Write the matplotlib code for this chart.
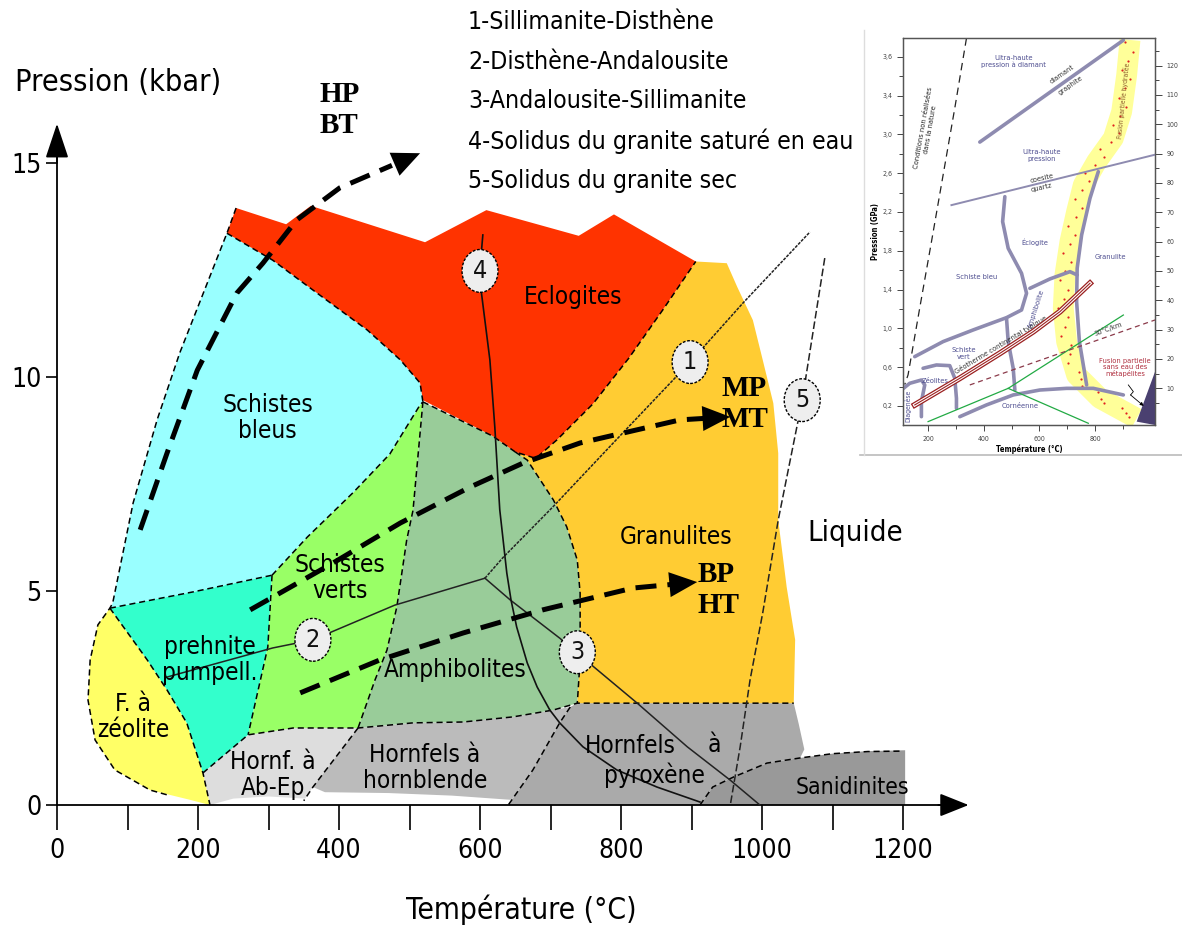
import matplotlib
matplotlib.use('Agg')
import matplotlib.pyplot as plt
import numpy as np
from matplotlib.patches import Polygon, Ellipse
from matplotlib.lines import Line2D

plt.rcParams['font.family'] = ['DejaVu Sans']
plt.rcParams['font.stretch'] = 'condensed'

# ---------------- data (T in °C, P in kbar) ----------------
xticks = list(range(0, 1300, 100))
xticklabels = [str(v) if v % 200 == 0 else '' for v in xticks]
yticks = [0, 5, 10, 15]
yticklabels = ['0', '5', '10', '15']

eclogite_T = [254, 325, 360, 522, 609, 740, 790, 906, 861, 811, 760, 709, 679, 650, 618, 519, 515, 487, 440, 369, 306, 241]
eclogite_P = [13.95, 13.57, 14.0, 13.15, 13.9, 13.3, 13.8, 12.7, 11.61, 10.44, 9.37, 8.53, 8.1, 8.25, 8.62, 9.46, 9.86, 10.4, 11.1, 11.96, 12.73, 13.36]

granulite_T = [650, 679, 709, 760, 811, 861, 906, 950, 965, 987, 1001, 1016, 1023, 1023, 1035, 1047, 1045, 738, 742, 742, 738, 723, 704, 667]
granulite_P = [8.25, 8.1, 8.53, 9.37, 10.44, 11.61, 12.7, 12.66, 12.1, 11.33, 10.4, 9.39, 8.22, 6.66, 5.09, 3.86, 2.38, 2.38, 3.39, 4.95, 5.72, 6.5, 7.13, 8.06]

amph_T = [519, 618, 650, 667, 704, 723, 738, 742, 742, 738, 704, 647, 576, 505, 427, 451, 468, 482, 496, 505]
amph_P = [9.42, 8.62, 8.25, 8.06, 7.13, 6.5, 5.72, 4.95, 3.39, 2.38, 2.22, 2.06, 1.94, 1.92, 1.8, 2.92, 3.62, 4.63, 6.19, 6.89]

blue_T = [241, 306, 369, 440, 487, 515, 519, 515, 472, 420, 355, 305, 193, 75, 79, 108, 142, 174]
blue_P = [13.36, 12.73, 11.96, 11.1, 10.4, 9.86, 9.42, 9.35, 8.2, 7.3, 6.26, 5.37, 4.98, 4.6, 4.72, 7.06, 9.0, 10.56]

verts_T = [515, 519, 505, 496, 482, 468, 451, 427, 335, 271, 299, 305, 355, 420, 472]
verts_P = [9.35, 9.42, 6.89, 6.19, 4.63, 3.62, 2.92, 1.8, 1.8, 1.64, 3.69, 5.37, 6.26, 7.3, 8.2]

prehnite_T = [75, 193, 305, 299, 271, 207, 184, 156, 128]
prehnite_P = [4.6, 4.98, 5.37, 3.69, 1.64, 0.75, 1.92, 2.69, 3.39]

zeolite_T = [75, 128, 156, 184, 207, 217, 189, 132, 82, 54, 44, 47, 58]
zeolite_P = [4.6, 3.39, 2.69, 1.92, 0.75, 0.0, 0.12, 0.35, 0.82, 1.52, 2.45, 3.39, 4.21]

abep_T = [207, 271, 335, 427, 363, 352, 300, 250, 217]
abep_P = [0.75, 1.64, 1.8, 1.8, 0.42, 0.15, 0.2, 0.15, 0.0]

hornbl_T = [427, 505, 576, 647, 704, 728, 713, 675, 645, 560, 470, 380, 363]
hornbl_P = [1.8, 1.92, 1.94, 2.06, 2.22, 2.29, 1.92, 0.82, 0.12, 0.22, 0.28, 0.3, 0.42]

pyrox_T = [728, 738, 1045, 1052, 1060, 1054, 1007, 959, 930, 912, 640, 675, 713]
pyrox_P = [2.29, 2.38, 2.38, 1.9, 1.3, 1.1, 0.98, 0.65, 0.42, 0.0, 0.0, 0.82, 1.92]

sanid_T = [912, 930, 959, 1007, 1054, 1100, 1150, 1203, 1203]
sanid_P = [0.0, 0.42, 0.65, 0.98, 1.1, 1.2, 1.26, 1.28, 0.0]

# facies boundaries (dashed)
bnd_outer_T = [254, 241, 174, 142, 108, 79, 75, 58, 47, 44, 54, 82, 132, 160]
bnd_outer_P = [13.95, 13.36, 10.56, 9.0, 7.06, 4.72, 4.6, 4.21, 3.39, 2.45, 1.52, 0.82, 0.35, 0.22]
bnd_redblue_T = [241, 306, 369, 440, 487, 515, 519]
bnd_redblue_P = [13.36, 12.73, 11.96, 11.1, 10.4, 9.86, 9.42]
bnd_redlow_T = [519, 618, 650, 679, 709, 760, 811, 861, 906]
bnd_redlow_P = [9.42, 8.62, 8.25, 8.1, 8.53, 9.37, 10.44, 11.61, 12.7]
bnd_blueprehn_T = [75, 193, 305]
bnd_blueprehn_P = [4.6, 4.98, 5.37]
bnd_blueverts_T = [305, 355, 420, 472, 515, 519]
bnd_blueverts_P = [5.37, 6.26, 7.3, 8.2, 9.35, 9.42]
bnd_vertsamph_T = [519, 505, 496, 482, 468, 451, 427]
bnd_vertsamph_P = [9.42, 6.89, 6.19, 4.63, 3.62, 2.92, 1.8]
bnd_prehnverts_T = [305, 299, 271]
bnd_prehnverts_P = [5.37, 3.69, 1.64]
bnd_prehnzeol_T = [75, 128, 156, 184, 207, 217]
bnd_prehnzeol_P = [4.6, 3.39, 2.69, 1.92, 0.75, 0.0]
bnd_low_T = [207, 271, 335, 427, 505, 576, 647, 704, 738, 1045]
bnd_low_P = [0.75, 1.64, 1.8, 1.8, 1.92, 1.94, 2.06, 2.22, 2.38, 2.38]
bnd_ampgran_T = [650, 667, 704, 723, 738, 742, 742, 738]
bnd_ampgran_P = [8.25, 8.06, 7.13, 6.5, 5.72, 4.95, 3.39, 2.38]
bnd_abep_T = [427, 363, 350]
bnd_abep_P = [1.8, 0.42, 0.1]
bnd_hbpx_T = [728, 713, 675, 640]
bnd_hbpx_P = [2.29, 1.92, 0.82, 0.0]
bnd_sanid_T = [912, 930, 959, 1007, 1054, 1100, 1150, 1200]
bnd_sanid_P = [0.0, 0.42, 0.65, 0.98, 1.1, 1.2, 1.25, 1.26]

# reaction curves 1-5
r1_T = [607, 633, 657, 703, 789, 898, 973, 1068]
r1_P = [5.3, 5.79, 6.19, 6.96, 8.46, 10.35, 11.73, 13.39]
r2_T = [607, 479, 363, 306, 156]
r2_P = [5.3, 4.67, 3.86, 3.67, 2.99]
r3_T = [607, 643, 713, 738, 823, 894, 955, 997]
r3_P = [5.3, 4.79, 3.9, 3.55, 2.38, 1.36, 0.58, 0.0]
r4_T = [604, 599, 614, 621, 628, 638, 644, 652, 667, 681, 699, 713, 746, 794, 851, 912]
r4_P = [13.32, 12.36, 10.4, 8.83, 6.9, 5.42, 4.79, 4.16, 3.32, 2.76, 2.22, 1.92, 1.36, 0.82, 0.42, 0.07]
r5_T = [1089, 1057, 1023, 1001, 983, 969, 955]
r5_P = [12.78, 9.46, 6.66, 4.49, 2.92, 1.36, 0.0]

circle_labels = ['1', '2', '3', '4', '5']
circle_T = [898, 363, 738, 600, 1057]
circle_P = [10.35, 3.86, 3.57, 12.48, 9.46]

# P-T paths
hp_T = [118, 156, 199, 255, 292, 340, 401, 515]
hp_P = [6.43, 8.22, 10.16, 11.96, 12.66, 13.67, 14.42, 15.23]
mp_T = [274, 391, 487, 586, 661, 742, 884, 955]
mp_P = [4.56, 5.65, 6.59, 7.43, 7.99, 8.46, 9.0, 9.07]
bp_T = [345, 458, 576, 689, 817, 908]
bp_P = [2.62, 3.39, 4.02, 4.56, 5.07, 5.21]

legend_lines = ['1-Sillimanite-Disthène', '2-Disthène-Andalousite', '3-Andalousite-Sillimanite',
                '4-Solidus du granite saturé en eau', '5-Solidus du granite sec']

# ---------------- inset data (T °C, P GPa) ----------------
in_cond_T = [338, 296, 254, 212, 170, 128, 116]
in_cond_P = [3.99, 3.27, 2.58, 1.89, 1.21, 0.52, 0.42]
in_diam_T = [386, 902]
in_diam_P = [2.92, 3.97]
in_coes_T = [284, 1016]
in_coes_P = [2.27, 2.79]
in_bs_T = [476, 468, 488, 536, 554, 536, 482, 362, 254, 152]
in_bs_P = [2.357, 2.10, 1.825, 1.567, 1.361, 1.189, 1.11, 0.983, 0.863, 0.708]
in_ecam_T = [566, 638, 710, 736]
in_ecam_P = [1.412, 1.509, 1.584, 1.55]
in_gran_T = [812, 782, 752, 736, 734, 744, 770]
in_gran_P = [2.615, 2.34, 1.962, 1.619, 1.275, 0.863, 0.416]
in_amsv_T = [482, 488, 506, 512]
in_amsv_P = [1.103, 0.863, 0.588, 0.364]
in_sv_T = [182, 230, 278, 296, 302, 302]
in_sv_P = [0.588, 0.622, 0.615, 0.485, 0.278, 0.175]
in_zeo_T = [104, 134, 176, 188, 176, 176]
in_zeo_P = [0.364, 0.433, 0.467, 0.416, 0.244, 0.089]
in_corn_T = [314, 410, 506, 602, 698, 794, 902]
in_corn_P = [0.089, 0.21, 0.313, 0.364, 0.381, 0.381, 0.313]
in_band_T = [926, 914, 896, 866, 806, 758, 734, 710, 692, 686, 698, 734, 818, 950]
in_band_P = [3.973, 3.612, 3.234, 2.959, 2.718, 2.478, 2.203, 1.893, 1.55, 1.206, 0.863, 0.519, 0.278, 0.072]
in_geo_T = [152, 314, 458, 578, 674, 782]
in_geo_P = [0.21, 0.485, 0.742, 0.966, 1.172, 1.464]
in_al_tp = (488, 0.381)
in_ky_and = (200, 0.038)
in_ky_sil = (902, 1.137)
in_and_sil = (776, 0.021)
in_30_T = [350, 1016]
in_30_P = [0.416, 1.086]
in_tri_T = [950, 1016, 1016]
in_tri_P = [0.038, 0.553, 0.003]
in_sq_T = [920, 938, 928, 975]
in_sq_P = [0.416, 0.347, 0.313, 0.2]
in_pticks = [0.2, 0.6, 1.0, 1.4, 1.8, 2.2, 2.6, 3.0, 3.4, 3.8]
in_plabels = ['0,2', '0,6', '1,0', '1,4', '1,8', '2,2', '2,6', '3,0', '3,4', '3,6']
in_tticks = [200, 400, 600, 800]
in_kmticks = list(range(10, 130, 10))

# ---------------- figure ----------------
W, H, DPI = 1182, 927, 100
fig = plt.figure(figsize=(W / DPI, H / DPI), dpi=DPI)
ax = fig.add_axes([0, 0, 1, 1])
ax.set_xlim(-80.85, 1595.7)
ax.set_ylim(-2.85, 18.81)
ax.patch.set_alpha(0)

def poly(T, P, color):
    ax.add_patch(Polygon(np.column_stack([T, P]), closed=True, facecolor=color,
                         edgecolor='none', zorder=1))

poly(abep_T, abep_P, '#DDDDDD')
poly(hornbl_T, hornbl_P, '#BBBBBB')
poly(pyrox_T, pyrox_P, '#AAAAAA')
poly(sanid_T, sanid_P, '#999999')
poly(zeolite_T, zeolite_P, '#FFFF66')
poly(prehnite_T, prehnite_P, '#33FFCC')
poly(verts_T, verts_P, '#99FF66')
poly(blue_T, blue_P, '#99FFFF')
poly(amph_T, amph_P, '#99CC99')
poly(granulite_T, granulite_P, '#FFCC33')
poly(eclogite_T, eclogite_P, '#FF3300')

for T, P in [(bnd_outer_T, bnd_outer_P), (bnd_redblue_T, bnd_redblue_P), (bnd_redlow_T, bnd_redlow_P),
             (bnd_blueprehn_T, bnd_blueprehn_P), (bnd_blueverts_T, bnd_blueverts_P),
             (bnd_vertsamph_T, bnd_vertsamph_P), (bnd_prehnverts_T, bnd_prehnverts_P),
             (bnd_prehnzeol_T, bnd_prehnzeol_P), (bnd_low_T, bnd_low_P), (bnd_ampgran_T, bnd_ampgran_P),
             (bnd_abep_T, bnd_abep_P), (bnd_hbpx_T, bnd_hbpx_P), (bnd_sanid_T, bnd_sanid_P)]:
    ax.plot(T, P, color='k', lw=1.1, dashes=(4, 2.5), zorder=2)

ax.plot(r1_T, r1_P, color='#222222', lw=1.1, dashes=(2, 0.8), zorder=3)
ax.plot(r2_T, r2_P, color='#222222', lw=1.1, zorder=3)
ax.plot(r3_T, r3_P, color='#222222', lw=1.1, zorder=3)
ax.plot(r4_T, r4_P, color='#111111', lw=1.2, zorder=3)
ax.plot(r5_T, r5_P, color='#222222', lw=1.1, dashes=(5, 2), zorder=3)

for lab, t, p in zip(circle_labels, circle_T, circle_P):
    ax.add_patch(Ellipse((t, p), 51, 1.0, facecolor='#EEEEEE', edgecolor='k', lw=1.0,
                         linestyle=(0, (2, 1.2)), zorder=4))
    ax.text(t, p, lab, ha='center', va='center', fontsize=18, zorder=5, color='#111111')

# region labels
lab_kw = dict(ha='center', va='center', fontsize=17.5, zorder=5, linespacing=1.1)
ax.text(732, 11.87, 'Eclogites', **lab_kw)
ax.text(299, 9.04, 'Schistes\nbleus', **lab_kw)
ax.text(401, 5.30, 'Schistes\nverts', **lab_kw)
ax.text(217, 3.39, 'prehnite\npumpell.', **lab_kw)
ax.text(108, 2.06, 'F. à\nzéolite', **lab_kw)
ax.text(565, 3.15, 'Amphibolites', **lab_kw)
ax.text(878, 6.26, 'Granulites', **lab_kw)
ax.text(1132, 6.36, 'Liquide', ha='center', va='center', fontsize=21, zorder=5)
ax.text(306, 0.70, 'Hornf. à\nAb-Ep', **lab_kw)
ax.text(522, 0.86, 'Hornfels à\nhornblende', **lab_kw)
ax.text(813, 1.38, 'Hornfels', **lab_kw)
ax.text(933, 1.40, 'à', **lab_kw)
ax.text(848, 0.70, 'pyroxène', **lab_kw)
ax.text(1128, 0.42, 'Sanidinites', ha='center', va='center', fontsize=16.5, zorder=5)

# P-T path arrows
for T, P in [(hp_T, hp_P), (mp_T, mp_P), (bp_T, bp_P)]:
    ax.plot(T[:-1] + [T[-1] - 0.35 * (T[-1] - T[-2])], P[:-1] + [P[-1] - 0.35 * (P[-1] - P[-2])],
            color='k', lw=3.6, dashes=(4.2, 2.2), solid_capstyle='butt', dash_capstyle='butt', zorder=6)
    ax.annotate('', xy=(T[-1], P[-1]), xytext=(T[-2], P[-2]),
                arrowprops=dict(arrowstyle='-|>,head_length=1.0,head_width=0.45', color='k', lw=0,
                                mutation_scale=20, shrinkA=0, shrinkB=0), zorder=6)

bold_kw = dict(ha='left', va='center', fontsize=21, fontweight='bold', family='Liberation Serif',
               fontstretch='normal', linespacing=1.2, zorder=7)
ax.text(373, 16.24, 'HP\nBT', **bold_kw)
ax.text(943, 9.37, 'MP\nMT', **bold_kw)
ax.text(908, 5.02, 'BP\nHT', **bold_kw)

for i, s in enumerate(legend_lines):
    ax.text(583, 18.29 - i * 0.925, s, ha='left', va='center', fontsize=17.8, zorder=5)

# axes
for s in ['top', 'right']:
    ax.spines[s].set_visible(False)
ax.spines['left'].set_position(('data', 0))
ax.spines['bottom'].set_position(('data', 0))
ax.spines['bottom'].set_bounds(0, 1270)
ax.spines['left'].set_bounds(0, 15.4)
ax.spines['left'].set_linewidth(1.3)
ax.spines['bottom'].set_linewidth(1.3)
ax.set_xticks(xticks, xticklabels)
ax.set_yticks(yticks, yticklabels)
ax.tick_params(axis='x', direction='out', length=18, width=1.2, pad=6, labelsize=19)
ax.tick_params(axis='y', direction='out', length=8, width=1.2, pad=3, labelsize=19)
ax.annotate('', xy=(1293, 0), xytext=(1250, 0),
            arrowprops=dict(arrowstyle='-|>,head_length=1.0,head_width=0.4', color='k', lw=1.3,
                            mutation_scale=18, shrinkA=0, shrinkB=0), annotation_clip=False)
ax.annotate('', xy=(0, 15.92), xytext=(0, 15.0),
            arrowprops=dict(arrowstyle='-|>,head_length=1.2,head_width=0.4', color='k', lw=1.3,
                            mutation_scale=18, shrinkA=0, shrinkB=0), annotation_clip=False)
ax.text(-59.6, 16.89, 'Pression (kbar)', ha='left', va='center', fontsize=22)
ax.text(658, -2.45, 'Température (°C)', ha='center', va='center', fontsize=21.5)

# ---------------- inset ----------------
fig.add_artist(Line2D([0.7276, 1.0], [0.509, 0.509], transform=fig.transFigure, color='#bbbbbb', lw=1.2))
fig.add_artist(Line2D([0.731, 0.731], [0.968, 0.509], transform=fig.transFigure, color='#dddddd', lw=1.0))
ax2 = fig.add_axes([0.7640, 0.5412, 0.2132, 0.4175])
ax2.set_xlim(110, 1016)
ax2.set_ylim(0, 3.99)
lav = '#8E8BB0'
txtc = '#4E4E90'
ax2.plot(in_band_T, in_band_P, color='#FFFF99', lw=15, solid_capstyle='butt', zorder=1)
bt = np.array(in_band_T, float); bp = np.array(in_band_P, float)
nx = (bt - 110) / 906; ny = bp / 3.99 * 1.6
seg = np.hypot(np.diff(nx), np.diff(ny)); cum = np.concatenate([[0], np.cumsum(seg)])
s_pts = np.linspace(0.01, cum[-1] - 0.01, 46)
dx_ = np.interp(s_pts, cum, bt); dy_ = np.interp(s_pts, cum, bp)
side = np.where(np.arange(len(s_pts)) % 3 == 0, -18, np.where(np.arange(len(s_pts)) % 3 == 1, 14, 0))
ax2.scatter(dx_ + side, dy_, s=2.5, color='#E02020', zorder=2, linewidths=0)
ax2.plot(in_cond_T, in_cond_P, color='#222222', lw=0.9, dashes=(6, 4), zorder=3)
for T, P in [(in_diam_T, in_diam_P), (in_bs_T, in_bs_P), (in_ecam_T, in_ecam_P), (in_gran_T, in_gran_P),
             (in_amsv_T, in_amsv_P), (in_sv_T, in_sv_P), (in_zeo_T, in_zeo_P), (in_corn_T, in_corn_P)]:
    ax2.plot(T, P, color=lav, lw=2.6, solid_capstyle='round', zorder=3)
ax2.plot(in_coes_T, in_coes_P, color=lav, lw=1.4, zorder=3)
ax2.plot([in_ky_and[0], in_al_tp[0], in_ky_sil[0]], [in_ky_and[1], in_al_tp[1], in_ky_sil[1]],
         color='#22AA44', lw=0.9, zorder=3)
ax2.plot([in_al_tp[0], in_and_sil[0]], [in_al_tp[1], in_and_sil[1]], color='#22AA44', lw=0.9, zorder=3)
ax2.plot(in_30_T, in_30_P, color='#8B3A4A', lw=0.9, dashes=(4, 3), zorder=3)
ax2.plot(in_geo_T, in_geo_P, color='#9B2020', lw=4.2, zorder=4)
ax2.plot(in_geo_T, in_geo_P, color='white', lw=2.4, zorder=4)
ax2.plot(in_geo_T, in_geo_P, color='#9B2020', lw=0.8, zorder=4)
ax2.add_patch(Polygon(np.column_stack([in_tri_T, in_tri_P]), closed=True, facecolor='#4A4070',
                      edgecolor='none', zorder=4))
ax2.annotate('', xy=(in_sq_T[-1], in_sq_P[-1]), xytext=(in_sq_T[-2], in_sq_P[-2]),
             arrowprops=dict(arrowstyle='-|>', color='k', lw=0.6, mutation_scale=5, shrinkA=0, shrinkB=0), zorder=5)
ax2.plot(in_sq_T[:-1], in_sq_P[:-1], color='k', lw=0.6, zorder=5)

fs = 5.4
ik = dict(ha='center', va='center', fontsize=fs)
ax2.text(194, 3.06, 'Conditions non réalisées\ndans la nature', rotation=80, color='#222222', **ik)
ax2.text(506, 3.75, 'Ultra-haute\npression à diamant', color=txtc, **ik)
ax2.text(680, 3.62, 'diamant', rotation=35, color='#333333', **ik)
ax2.text(712, 3.50, 'graphite', rotation=35, color='#333333', **ik)
ax2.text(608, 2.78, 'Ultra-haute\npression', color=txtc, **ik)
ax2.text(608, 2.55, 'coesite', rotation=13, color='#333333', **ik)
ax2.text(608, 2.45, 'quartz', rotation=13, color='#333333', **ik)
ax2.text(584, 1.89, 'Éclogite', color=txtc, **ik)
ax2.text(856, 1.74, 'Granulite', color=txtc, **ik)
ax2.text(374, 1.53, 'Schiste bleu', color=txtc, **ik)
ax2.text(588, 1.20, 'Amphibolite', rotation=72, color=txtc, **ik)
ax2.text(328, 0.74, 'Schiste\nvert', color=txtc, **ik)
ax2.text(226, 0.46, 'Zéolites', color=txtc, **ik)
ax2.text(128, 0.20, 'Diagenèse', rotation=90, ha='center', va='center', fontsize=fs - 0.5, color=txtc)
ax2.text(532, 0.20, 'Cornéenne', color=txtc, **ik)
ax2.text(460, 0.83, 'Géotherme continental typique', rotation=31, color='#333333', **ik)
ax2.text(848, 0.99, '30°C/km', rotation=20, color='#333333', **ik)
ax2.text(908, 0.60, 'Fusion partielle\nsans eau des\nmétapélites', color='#B03040', linespacing=1.0, **ik)
ax2.text(902, 3.35, 'Fusion partielle hydratée', rotation=84, ha='center', va='center',
         fontsize=fs - 0.5, color='#8B5A2B')

ax2.set_yticks(in_pticks, in_plabels)
ax2.set_yticks(np.arange(0.2, 3.9, 0.2), minor=True)
ax2.set_xticks(in_tticks)
ax2.set_xticks(range(200, 1000, 100), minor=True)
ax2.tick_params(axis='both', which='both', direction='out', labelsize=5, colors='#444444', width=0.7)
ax2.tick_params(which='major', length=4)
ax2.tick_params(which='minor', length=3)
ax2.set_ylabel('Pression (GPa)', fontsize=5.5, fontweight='bold', labelpad=2)
ax2.set_xlabel('Température (°C)', fontsize=5.5, fontweight='bold', labelpad=2)
for s in ax2.spines.values():
    s.set_color('#555555'); s.set_linewidth(0.9)
ax3 = ax2.twinx()
ax3.set_ylim(-2.6, 129.3)
ax3.set_yticks(in_kmticks)
ax3.set_yticks(range(5, 130, 5), minor=True)
ax3.tick_params(axis='y', which='both', direction='out', labelsize=5, colors='#444444', width=0.7)
ax3.tick_params(which='major', length=5)
ax3.tick_params(which='minor', length=3)
for s in ax3.spines.values():
    s.set_color('#555555'); s.set_linewidth(0.9)

fig.savefig('out.png', dpi=DPI)
